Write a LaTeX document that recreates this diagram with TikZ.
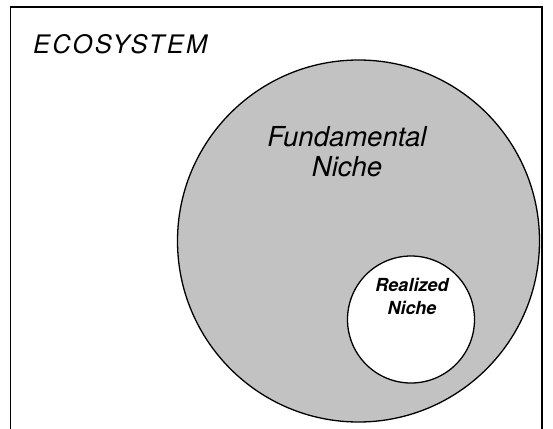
\documentclass[tikz,border=0pt]{standalone}
\usepackage{fontspec}
\setmainfont{TeX Gyre Heros}
\begin{document}
\begin{tikzpicture}[x=1pt,y=-1pt,
  frame/.style={line width=1.4pt},
  niche/.style={circle,draw,line width=1.3pt,inner sep=0pt},
  lbl/.style={font=\itshape,align=center,inner sep=0pt}]
\useasboundingbox (0,0) rectangle (553,428);
\fill[white] (0,0) rectangle (553,428);
\coordinate (bl) at (10.5,430);
\coordinate (br) at (542,430);
\draw[frame] (bl) -- (10.5,7) -- (542,7) -- (br);
\node[niche,fill=black!24,minimum size=362pt] (fund) at (358.5,241) {};
\node[niche,fill=white,minimum size=127pt] (real) at (411,319.5) {};
\node[lbl,anchor=base west,font=\itshape\fontsize{25.5}{30}\selectfont\addfontfeatures{LetterSpace=9}] (eco) at (33,53) {ECOSYSTEM};
\node[lbl,font=\itshape\fontsize{27.5}{30}\selectfont,anchor=base] (ftxt) at (347,176) {Fundamental\\Niche};
\node[lbl,font=\bfseries\itshape\fontsize{18}{23}\selectfont,anchor=base] (rtxt) at (412,314) {Realized\\Niche};
\end{tikzpicture}
\end{document}
